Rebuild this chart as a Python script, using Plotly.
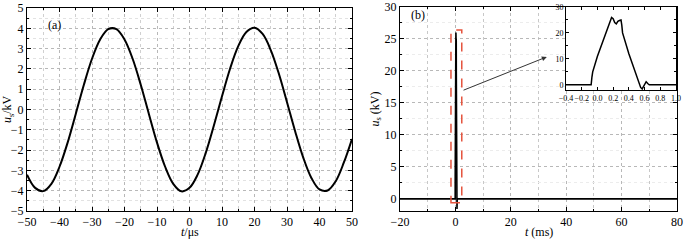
import plotly.graph_objects as go

# Panel (a): sinusoidal voltage, t in microseconds
t_us = [-50, -47.5, -45, -42.5, -40, -37.5, -35, -32.5, -30, -27.5, -25, -22.5, -20,
        -17.5, -15, -12.5, -10, -7.5, -5, -2.5, 0, 2.5, 5, 7.5, 10, 12.5, 15, 17.5,
        20, 22.5, 25, 27.5, 30, 32.5, 35, 37.5, 40, 42.5, 45, 47.5, 50]
u_a = [-3.21, -3.86, -4.02, -3.66, -2.82, -1.63, -0.22, 1.22, 2.50, 3.45, 3.96, 3.96, 3.45,
       2.50, 1.22, -0.22, -1.63, -2.82, -3.66, -4.03, -3.86, -3.21, -2.14, -0.79, 0.65, 2.02,
       3.12, 3.82, 4.03, 3.72, 2.93, 1.76, 0.36, -1.07, -2.37, -3.37, -3.94, -3.99, -3.53,
       -2.61, -1.45]

# Panel (b): pulse, t in ms
pulse_t = [-0.4, -0.08, -0.07, -0.06, 0.0, 0.1, 0.18, 0.2, 0.22, 0.24, 0.26, 0.28, 0.3,
           0.31, 0.32, 0.4, 0.5, 0.55, 0.57, 0.6, 0.62, 0.64, 0.66, 1.0]
pulse_u = [0, 0, 3, 5, 11, 19, 26, 25.5, 24, 23.5, 24.5, 24.8, 25,
           23, 20, 12, 3, -1, -1.6, 0, 1.2, 0.5, 0, 0]
main_t = [-20] + pulse_t + [80]
main_u = [0] + pulse_u + [0]

W, H = 685, 241
FONT = "Liberation Serif"

fig = go.Figure()
fig.add_trace(go.Scatter(x=t_us, y=u_a, mode="lines", line=dict(color="black", width=2, shape="spline"),
                         xaxis="x", yaxis="y", showlegend=False, hoverinfo="skip"))
fig.add_trace(go.Scatter(x=main_t, y=main_u, mode="lines", line=dict(color="black", width=1.6),
                         xaxis="x2", yaxis="y2", showlegend=False, hoverinfo="skip"))
fig.add_trace(go.Scatter(x=pulse_t, y=pulse_u, mode="lines", line=dict(color="black", width=1.5),
                         xaxis="x3", yaxis="y3", showlegend=False, hoverinfo="skip"))

def px_x(a, b):
    return [a / W, b / W]

def px_y(top, bottom):
    return [1 - bottom / H, 1 - top / H]

grid = dict(showgrid=True, gridcolor="#b8b8b8", griddash="dot", gridwidth=1)
common = dict(showline=True, linecolor="black", linewidth=1, mirror="allticks", ticks="inside",
              ticklen=4, tickcolor="black", zeroline=False, automargin=False,
              tickfont=dict(family=FONT, size=12, color="black"))

fig.update_layout(
    width=W, height=H, margin=dict(l=0, r=0, t=0, b=0, autoexpand=False),
    paper_bgcolor="white", plot_bgcolor="white", hovermode=False,
    font=dict(family=FONT, size=12, color="black"),
    xaxis=dict(domain=px_x(27, 352), range=[-50, 50], dtick=10, anchor="y",
               minor=dict(dtick=5, ticks="inside", ticklen=2, tickcolor="black", showgrid=True,
                          gridcolor="#d0d0d0", griddash="dot"), **grid, **common),
    yaxis=dict(domain=px_y(8, 211), range=[-5, 5], dtick=1, anchor="x",
               minor=dict(dtick=0.5, ticks="inside", ticklen=2, tickcolor="black", showgrid=True,
                          gridcolor="#e2e2e2", griddash="dot"),
               title=dict(text="<i>u</i><sub>s</sub>/kV", standoff=0, font=dict(size=12)), **grid, **common),
    xaxis2=dict(domain=px_x(400, 677), range=[-20, 80], dtick=20, anchor="y2",
                minor=dict(dtick=10, ticks="inside", ticklen=2, tickcolor="black", showgrid=True,
                           gridcolor="#c8c8c8", griddash="dot"), **grid, **common),
    yaxis2=dict(domain=px_y(7, 211), range=[-1.9, 30], dtick=5, anchor="x2",
                minor=dict(dtick=2.5, ticks="inside", ticklen=2, tickcolor="black", showgrid=True,
                           gridcolor="#ececec", griddash="dot"),
                title=dict(text="<i>u</i><sub>s</sub> (kV)", standoff=2, font=dict(size=12)), **grid, **common),
    xaxis3=dict(domain=px_x(566, 676), range=[-0.4, 1.0], dtick=0.2, tickformat=".1f", anchor="y3",
                showgrid=False, showline=True, linecolor="black", linewidth=1, mirror="allticks",
                ticks="inside", ticklen=3, tickcolor="black", zeroline=False, automargin=False,
                tickangle=0, tickfont=dict(family=FONT, size=8, color="black")),
    yaxis3=dict(domain=px_y(7, 90), range=[-2, 30], dtick=10, anchor="x3",
                showgrid=False, showline=True, linecolor="black", linewidth=1, mirror="allticks",
                ticks="inside", ticklen=3, tickcolor="black", zeroline=False, automargin=False,
                tickfont=dict(family=FONT, size=8, color="black"),
                minor=dict(dtick=5, ticks="inside", ticklen=2, tickcolor="black")),
)

fig.add_shape(type="rect", xref="x2", yref="y2", x0=-1.6, x1=2.3, y0=-0.6, y1=26.4,
              line=dict(color="#e5533d", width=1.5, dash="dash"), layer="above")

fig.add_annotation(xref="x2", yref="y2", axref="x2", ayref="y2", x=33, y=22.2, ax=2.4, ay=16.9,
                   showarrow=True, arrowhead=2, arrowsize=1, arrowwidth=1, arrowcolor="#333333", text="")

# x-axis titles placed as text under each panel
fig.add_annotation(xref="x domain", yref="paper", x=0.5, y=0, text="<i>t</i>/μs", showarrow=False,
                   xanchor="center", yanchor="bottom", font=dict(family=FONT, size=12))
fig.add_annotation(xref="x2 domain", yref="paper", x=0.5, y=0, text="<i>t</i> (ms)", showarrow=False,
                   xanchor="center", yanchor="bottom", font=dict(family=FONT, size=12))

fig.add_annotation(xref="paper", yref="paper", x=46 / W, y=1 - 25 / H, text="(a)", showarrow=False,
                   xanchor="left", yanchor="middle", font=dict(family=FONT, size=12))
fig.add_annotation(xref="paper", yref="paper", x=409 / W, y=1 - 15 / H, text="(b)", showarrow=False,
                   xanchor="left", yanchor="middle", font=dict(family=FONT, size=12))

fig.write_html("out.html", config={"displayModeBar": False, "staticPlot": True},
               post_script="document.body.style.margin='0';document.body.style.overflow='hidden';")
